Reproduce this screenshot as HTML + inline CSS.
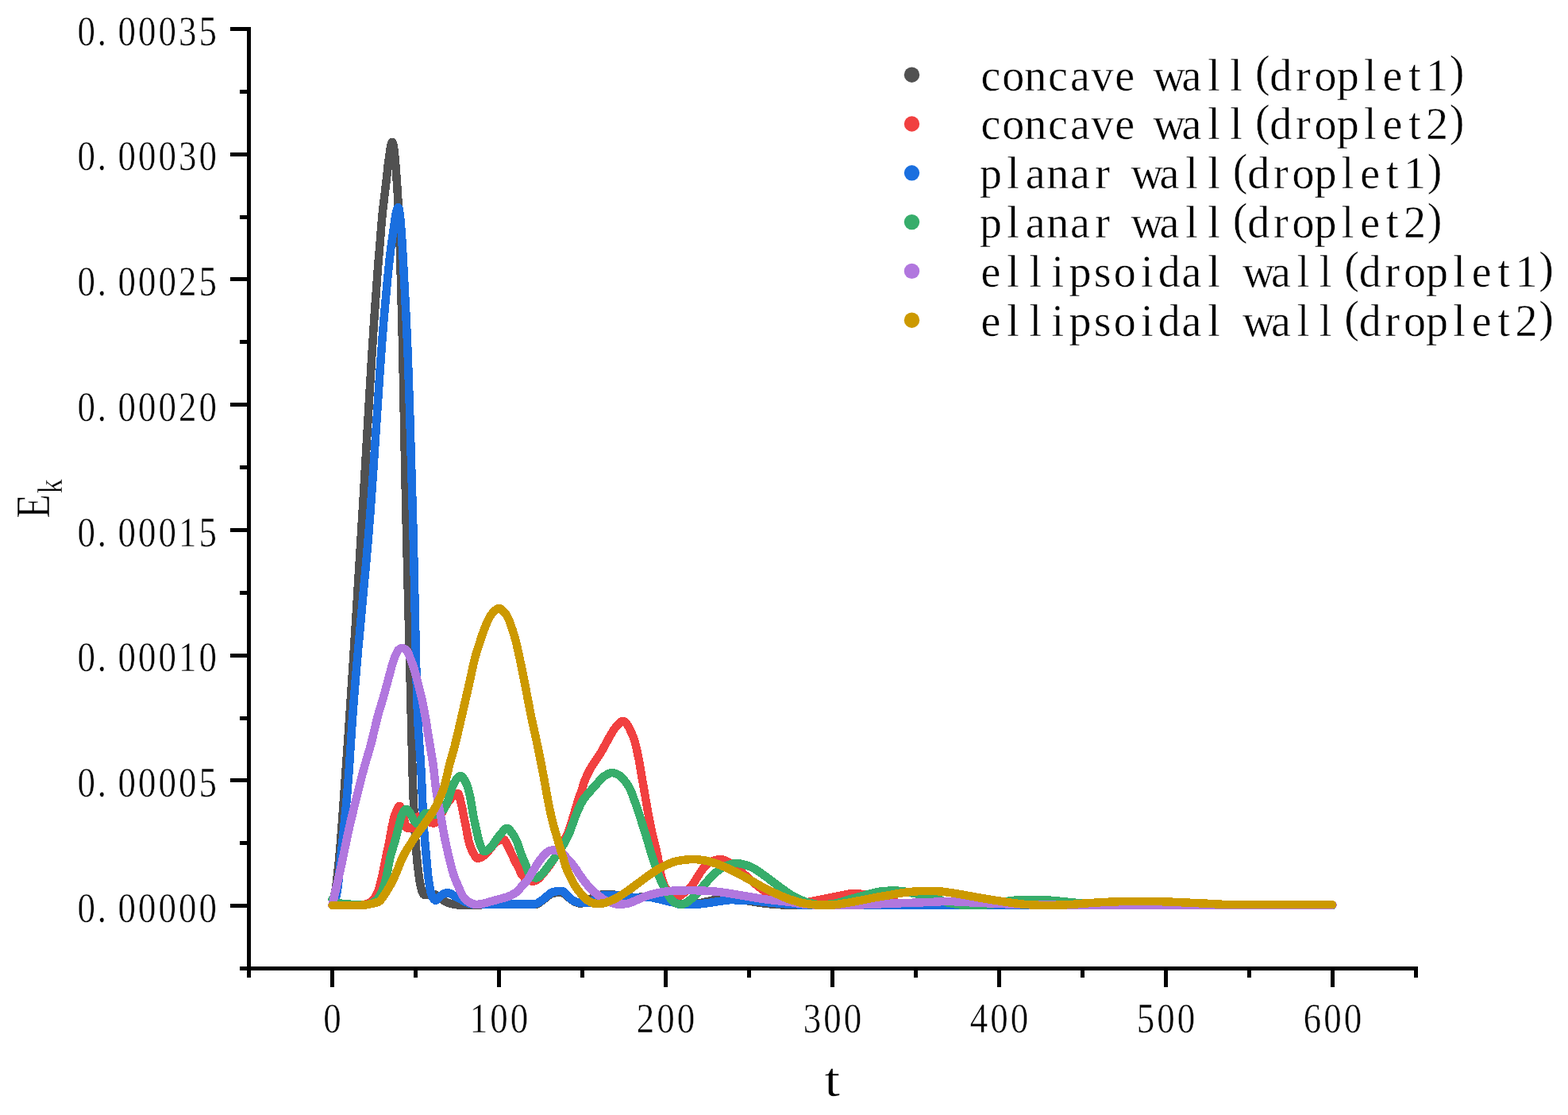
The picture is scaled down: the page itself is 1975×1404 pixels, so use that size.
<!DOCTYPE html>
<html lang="en">
<head>
<meta charset="utf-8">
<title>Ek vs t</title>
<style>
html,body{margin:0;padding:0;background:#ffffff;}
body{width:1975px;height:1404px;overflow:hidden;}
svg{display:block;}
text{font-family:"Liberation Serif",serif;fill:#000;stroke:#fff;stroke-width:0.45px;vector-effect:non-scaling-stroke;}
</style>
</head>
<body>
<svg width="1975" height="1404" viewBox="0 0 1975 1404">
<rect x="0" y="0" width="1975" height="1404" fill="#ffffff"/>
<g fill="none" stroke-width="10.5" stroke-linecap="round" stroke-linejoin="round" shape-rendering="crispEdges">
<path stroke="#515151" d="M418.5,1140.0 L422.5,1121.1 L423.5,1115.0 L424.5,1105.2 L426.5,1087.7 L427.5,1077.9 L429.0,1060.4 L431.0,1033.8 L439.5,914.6 L444.5,839.4 L449.0,768.2 L457.0,638.6 L465.5,494.6 L468.5,445.3 L471.5,399.2 L476.0,336.9 L479.0,301.2 L480.5,281.9 L481.0,276.0 L482.0,266.2 L486.5,228.3 L489.0,205.6 L491.0,191.3 L492.0,185.0 L492.5,182.4 L493.0,180.4 L493.5,179.2 L494.0,178.7 L494.5,179.2 L495.0,180.5 L495.5,182.7 L496.0,185.6 L497.0,193.6 L498.5,210.0 L500.0,230.6 L502.0,262.3 L502.5,273.3 L503.5,301.5 L505.0,354.3 L507.0,432.7 L511.0,627.6 L513.0,712.5 L517.5,888.1 L519.5,969.6 L520.0,986.3 L521.0,1013.0 L522.5,1044.8 L523.5,1061.3 L524.5,1074.4 L526.0,1089.9 L527.5,1102.2 L528.5,1108.7 L529.5,1114.2 L531.0,1120.5 L531.5,1122.0 L532.5,1124.4 L533.0,1125.4 L533.5,1126.2 L534.0,1126.5 L535.5,1126.7 L537.5,1126.9 L540.0,1127.0 L541.5,1126.9 L546.0,1126.1 L547.0,1126.0 L548.0,1126.2 L549.0,1126.6 L550.0,1127.3 L554.5,1131.1 L561.0,1135.2 L563.0,1136.3 L564.5,1137.0 L566.5,1137.6 L572.0,1138.7 L576.0,1139.3 L579.5,1139.5 L594.0,1139.4 L632.5,1139.0 L674.5,1139.0 L675.5,1138.8 L676.5,1138.4 L677.5,1137.9 L679.0,1136.9 L683.5,1133.8 L691.5,1127.4 L693.5,1126.0 L694.5,1125.6 L698.0,1124.5 L700.0,1124.1 L702.0,1124.0 L704.5,1124.1 L707.5,1124.3 L709.0,1124.6 L710.0,1124.9 L711.5,1126.0 L715.5,1129.6 L720.5,1133.4 L722.5,1134.8 L724.5,1135.8 L727.5,1136.9 L729.5,1137.4 L731.0,1137.5 L732.5,1137.4 L734.0,1137.0 L738.0,1135.5 L739.5,1134.8 L743.5,1132.3 L747.0,1130.5 L750.5,1129.0 L756.5,1126.9 L758.0,1126.5 L759.5,1126.3 L768.0,1126.3 L771.0,1126.4 L774.0,1126.7 L793.0,1129.4 L797.5,1129.9 L800.0,1130.0 L802.5,1129.9 L814.0,1129.3 L816.0,1129.3 L818.5,1129.6 L821.5,1130.1 L829.0,1131.7 L839.5,1134.4 L848.5,1136.2 L850.0,1136.6 L854.5,1138.2 L856.0,1138.5 L857.0,1138.6 L867.5,1138.4 L875.0,1138.0 L877.5,1137.8 L882.0,1137.0 L892.0,1134.9 L896.5,1133.8 L899.5,1133.3 L907.5,1133.0 L920.0,1133.0 L924.5,1133.1 L929.0,1133.3 L941.0,1134.2 L945.0,1134.8 L955.5,1136.6 L963.5,1137.6 L970.0,1138.3 L980.5,1139.1 L985.0,1139.4 L988.5,1139.5 L1282.5,1139.7 L1678.5,1139.8"/>
<path stroke="#F14040" d="M418.5,1139.5 L455.0,1139.5 L457.0,1139.3 L459.0,1138.9 L462.5,1137.8 L464.5,1137.1 L466.0,1136.3 L468.0,1135.0 L469.0,1134.1 L470.0,1133.1 L471.5,1131.1 L473.5,1127.8 L475.5,1123.9 L476.5,1121.3 L477.5,1118.4 L479.0,1113.3 L481.5,1102.4 L485.5,1082.4 L490.0,1061.4 L493.5,1042.0 L495.5,1032.9 L497.0,1027.3 L499.5,1020.7 L501.0,1017.4 L502.0,1015.8 L502.5,1015.3 L503.0,1015.0 L503.5,1014.9 L504.0,1015.3 L504.5,1016.2 L505.0,1017.5 L507.5,1026.4 L508.5,1029.6 L511.0,1039.3 L511.5,1040.8 L512.0,1041.9 L512.5,1042.6 L513.0,1042.7 L519.0,1042.7 L519.5,1042.4 L520.0,1041.8 L520.5,1040.8 L522.0,1037.1 L523.0,1035.0 L525.0,1030.2 L525.5,1029.3 L526.0,1028.7 L526.5,1028.5 L527.5,1028.6 L528.5,1029.0 L531.5,1030.7 L537.5,1033.9 L539.5,1034.8 L542.0,1035.7 L544.0,1036.2 L546.0,1036.5 L547.0,1036.4 L547.5,1036.2 L548.5,1035.5 L549.5,1034.7 L551.0,1033.1 L552.0,1032.0 L553.0,1030.6 L556.0,1024.7 L561.0,1015.6 L563.0,1012.2 L565.0,1009.2 L569.5,1003.9 L572.0,1001.3 L573.0,1000.4 L574.0,999.7 L575.0,999.2 L576.0,998.9 L576.5,998.9 L577.0,999.1 L577.5,999.7 L578.0,1000.8 L579.0,1004.0 L580.0,1008.0 L582.0,1016.5 L584.0,1027.0 L586.5,1039.1 L589.5,1054.9 L590.5,1059.5 L591.0,1061.3 L592.0,1064.6 L593.0,1067.5 L594.5,1071.0 L597.5,1076.7 L598.5,1078.4 L599.5,1079.7 L600.5,1080.6 L601.0,1080.8 L601.5,1080.9 L602.5,1080.8 L604.5,1080.2 L607.0,1079.0 L608.0,1078.4 L610.0,1076.9 L613.5,1073.5 L615.5,1071.2 L621.0,1064.3 L622.5,1062.7 L625.5,1059.9 L626.5,1059.2 L627.5,1058.6 L630.5,1057.5 L632.0,1057.0 L633.0,1056.9 L634.0,1056.8 L634.5,1056.9 L635.0,1057.2 L636.0,1058.3 L637.5,1060.8 L642.0,1069.9 L648.5,1084.1 L652.5,1091.4 L656.5,1100.0 L657.5,1101.7 L659.0,1103.5 L661.0,1105.7 L662.0,1106.6 L663.0,1107.3 L664.0,1107.8 L665.5,1108.4 L668.5,1109.2 L670.5,1109.6 L671.5,1109.6 L672.5,1109.5 L673.5,1109.2 L674.5,1108.8 L677.0,1107.5 L678.0,1106.8 L679.0,1105.9 L683.5,1100.8 L691.0,1091.2 L695.0,1085.7 L700.0,1078.0 L704.5,1070.6 L708.0,1064.3 L711.5,1057.3 L715.0,1049.5 L716.0,1047.0 L717.5,1042.7 L722.5,1026.8 L729.0,1005.1 L730.0,1002.2 L733.0,994.2 L735.0,987.3 L736.0,984.3 L737.5,980.6 L739.0,977.2 L741.0,973.0 L743.0,969.1 L745.0,965.6 L747.0,962.4 L751.0,956.3 L755.5,949.8 L757.5,946.6 L767.5,928.3 L771.5,921.6 L774.0,917.6 L776.0,915.0 L779.5,911.1 L781.0,909.6 L782.0,908.8 L783.0,908.2 L784.0,907.8 L784.5,907.8 L785.0,907.8 L786.0,908.2 L787.0,908.8 L788.0,909.7 L789.5,911.6 L791.5,914.8 L793.0,917.6 L794.5,920.8 L798.0,928.8 L799.0,931.7 L800.5,937.1 L802.5,945.8 L805.0,958.1 L808.0,976.0 L812.5,1001.5 L815.5,1019.1 L818.0,1032.6 L820.0,1042.5 L822.0,1051.8 L826.5,1069.9 L828.0,1076.6 L829.0,1081.6 L831.0,1094.6 L831.5,1097.3 L832.5,1101.5 L834.0,1107.1 L835.5,1111.7 L837.0,1115.4 L839.0,1119.2 L840.5,1121.6 L842.0,1123.6 L843.5,1124.9 L846.0,1126.7 L847.0,1127.2 L848.0,1127.6 L849.0,1127.8 L854.0,1128.0 L855.5,1128.0 L856.5,1127.7 L857.5,1127.2 L859.0,1126.3 L864.0,1122.5 L867.0,1120.0 L869.0,1118.1 L870.5,1116.5 L872.5,1114.0 L874.0,1111.6 L878.0,1104.9 L882.5,1098.0 L885.0,1094.5 L886.5,1092.6 L889.5,1089.4 L891.5,1087.5 L893.0,1086.2 L894.5,1085.2 L895.5,1084.7 L899.5,1083.5 L902.0,1082.9 L904.0,1082.5 L906.0,1082.3 L908.0,1082.2 L909.0,1082.2 L910.5,1082.5 L912.0,1083.0 L913.5,1083.6 L915.5,1084.5 L920.5,1087.3 L923.5,1089.2 L927.5,1092.4 L939.0,1102.4 L947.5,1110.0 L951.5,1113.3 L961.5,1121.1 L965.0,1123.7 L968.5,1126.1 L976.0,1130.6 L979.0,1132.2 L982.0,1133.7 L991.5,1137.9 L993.5,1138.5 L995.5,1138.9 L998.0,1138.9 L1002.0,1138.7 L1006.5,1138.4 L1011.0,1137.9 L1013.0,1137.4 L1019.0,1135.7 L1022.0,1135.1 L1040.5,1131.4 L1055.0,1128.4 L1069.5,1125.6 L1072.5,1125.2 L1075.5,1125.1 L1079.0,1125.2 L1082.5,1125.5 L1090.0,1126.5 L1092.5,1126.9 L1098.0,1128.2 L1107.5,1130.8 L1121.0,1134.5 L1128.5,1136.3 L1135.0,1137.5 L1141.0,1138.5 L1150.5,1139.7 L1154.5,1140.0 L1678.5,1140.0"/>
<path stroke="#1A6FDF" d="M418.5,1140.0 L419.5,1138.7 L420.5,1136.7 L421.5,1134.3 L422.5,1131.6 L423.5,1128.0 L424.0,1125.9 L425.0,1120.8 L425.5,1117.3 L427.0,1103.8 L429.0,1083.0 L433.0,1044.2 L435.5,1018.8 L437.5,996.8 L439.5,972.1 L444.0,904.1 L447.5,859.6 L451.5,813.6 L461.5,705.0 L464.0,675.9 L466.5,644.9 L470.0,596.1 L479.0,460.9 L481.5,426.8 L483.5,402.3 L486.5,368.7 L488.5,347.5 L490.5,328.0 L492.5,310.9 L496.5,282.7 L498.5,270.2 L499.5,265.5 L500.0,263.7 L500.5,262.3 L501.0,261.4 L501.5,261.0 L502.0,261.4 L502.5,262.8 L503.0,265.2 L503.5,268.5 L504.5,277.9 L506.0,297.3 L507.5,321.7 L509.5,359.1 L512.0,408.0 L513.5,442.7 L514.5,469.7 L516.0,514.6 L520.0,650.0 L521.0,689.7 L524.5,851.5 L525.5,886.8 L526.5,910.5 L527.5,927.5 L529.5,954.7 L530.5,970.4 L531.0,980.0 L532.0,1005.9 L532.5,1016.5 L534.0,1043.5 L534.5,1050.8 L535.5,1063.1 L538.5,1095.7 L539.5,1105.1 L540.5,1112.4 L542.0,1120.6 L543.0,1125.0 L543.5,1126.7 L544.0,1128.0 L545.0,1129.9 L546.5,1132.2 L547.5,1133.2 L548.0,1133.5 L548.5,1133.6 L549.0,1133.5 L550.0,1133.0 L552.5,1130.4 L556.0,1127.3 L557.5,1126.3 L560.0,1125.1 L561.5,1124.6 L563.0,1124.3 L564.0,1124.2 L565.5,1124.5 L568.5,1125.7 L573.0,1128.7 L579.0,1131.5 L583.5,1134.2 L585.0,1135.0 L590.5,1137.4 L592.5,1138.0 L594.5,1138.4 L600.5,1138.9 L605.5,1139.0 L638.0,1138.5 L674.0,1138.4 L675.0,1138.2 L677.0,1137.3 L678.5,1136.4 L680.0,1135.4 L684.0,1132.5 L689.0,1128.4 L692.0,1125.8 L694.0,1124.3 L696.5,1123.3 L699.0,1122.6 L702.0,1122.2 L705.0,1122.0 L708.5,1122.3 L709.0,1122.4 L710.0,1122.9 L711.5,1124.2 L714.5,1127.8 L715.5,1128.9 L720.0,1132.5 L721.5,1133.6 L723.0,1134.5 L724.5,1135.2 L727.5,1136.3 L729.5,1136.8 L731.0,1136.9 L738.5,1136.7 L742.0,1136.5 L743.0,1136.3 L744.0,1135.9 L745.0,1135.4 L749.0,1132.6 L754.5,1129.4 L756.5,1128.3 L758.0,1127.7 L759.5,1127.4 L762.0,1127.1 L766.0,1126.9 L770.0,1126.8 L773.0,1126.9 L776.0,1127.2 L794.0,1129.8 L798.0,1130.2 L802.5,1130.2 L811.0,1129.6 L814.0,1129.5 L816.0,1129.5 L818.5,1129.8 L821.5,1130.3 L829.0,1131.9 L839.5,1134.6 L848.5,1136.4 L850.0,1136.8 L854.5,1138.4 L856.0,1138.7 L857.0,1138.8 L875.5,1138.8 L880.0,1138.6 L884.0,1138.1 L892.5,1137.0 L905.5,1135.0 L915.0,1133.6 L918.0,1133.3 L920.5,1133.2 L934.0,1133.4 L941.0,1133.6 L945.0,1133.8 L950.0,1134.3 L962.5,1135.8 L983.5,1137.9 L997.5,1139.0 L1004.5,1139.3 L1292.5,1139.6 L1678.5,1139.7"/>
<path stroke="#37AD6B" d="M418.5,1132.5 L419.5,1134.7 L420.0,1135.6 L420.5,1136.0 L422.0,1136.4 L431.0,1137.8 L434.5,1138.2 L443.0,1138.8 L449.0,1139.0 L462.0,1139.0 L464.0,1138.8 L466.5,1138.0 L468.5,1137.3 L469.5,1136.8 L472.0,1135.2 L474.5,1133.1 L475.5,1132.0 L477.0,1130.0 L478.5,1127.5 L480.0,1124.7 L481.0,1122.6 L482.0,1120.2 L484.0,1114.3 L485.0,1110.9 L486.5,1104.7 L487.5,1100.0 L491.0,1081.8 L492.5,1075.7 L496.5,1062.7 L497.5,1059.2 L505.0,1029.6 L506.0,1026.7 L507.5,1023.7 L509.0,1021.1 L510.0,1019.9 L510.5,1019.4 L511.0,1019.1 L511.5,1019.0 L512.0,1019.0 L512.5,1019.2 L513.5,1019.9 L514.5,1020.9 L516.0,1023.1 L517.5,1025.7 L520.5,1031.4 L522.5,1034.7 L523.5,1035.9 L524.5,1036.8 L525.5,1037.3 L526.0,1037.4 L526.5,1037.3 L527.0,1037.1 L527.5,1036.7 L528.5,1035.5 L530.0,1033.0 L532.5,1028.4 L533.5,1026.7 L534.5,1025.3 L535.0,1024.7 L535.5,1024.3 L536.0,1024.1 L537.0,1024.0 L539.0,1024.2 L546.0,1025.6 L549.0,1026.0 L550.0,1026.0 L551.0,1025.8 L552.0,1025.3 L553.0,1024.8 L556.0,1022.6 L557.5,1021.0 L558.5,1019.6 L559.5,1018.1 L561.5,1014.4 L564.0,1008.9 L569.5,991.4 L570.5,989.0 L572.5,985.3 L574.5,981.9 L576.5,979.2 L577.5,978.1 L578.5,977.4 L579.5,977.0 L580.0,976.9 L581.0,977.1 L582.0,977.8 L583.0,978.8 L584.0,980.2 L585.0,981.9 L586.5,984.7 L588.5,989.1 L589.0,990.5 L590.0,994.0 L592.0,1002.6 L593.0,1007.9 L596.5,1028.5 L598.0,1035.8 L602.5,1056.0 L603.5,1059.8 L605.5,1065.2 L607.0,1068.7 L608.0,1070.5 L608.5,1071.2 L609.0,1071.7 L609.5,1072.0 L610.0,1072.1 L610.5,1072.1 L611.5,1071.8 L612.5,1071.4 L613.5,1070.8 L616.0,1068.8 L619.5,1065.5 L620.5,1064.3 L624.5,1058.3 L628.5,1052.8 L630.5,1050.3 L635.0,1045.1 L636.5,1043.7 L637.5,1043.1 L638.5,1042.9 L639.5,1043.1 L640.5,1043.7 L642.0,1045.2 L646.0,1050.3 L648.0,1053.5 L650.5,1058.4 L651.5,1060.8 L654.0,1068.4 L657.5,1078.1 L659.0,1081.8 L662.0,1088.4 L663.0,1090.8 L665.0,1097.2 L665.5,1098.6 L666.0,1099.6 L667.5,1101.3 L669.0,1102.7 L670.5,1103.8 L672.0,1104.6 L673.5,1105.2 L674.5,1105.4 L676.0,1105.3 L677.0,1105.0 L678.0,1104.5 L679.0,1103.8 L682.5,1100.9 L683.5,1100.0 L685.0,1098.2 L690.5,1090.6 L696.0,1083.6 L699.0,1079.6 L705.5,1070.1 L710.0,1062.9 L713.5,1056.6 L716.5,1050.5 L718.5,1045.4 L723.5,1031.4 L726.5,1023.8 L729.0,1018.0 L731.0,1013.7 L732.5,1010.7 L734.0,1008.2 L736.0,1005.2 L737.5,1003.2 L739.5,1000.7 L750.0,988.8 L757.5,980.6 L759.5,978.6 L760.5,977.8 L761.5,977.1 L764.5,975.3 L766.5,974.3 L768.0,973.7 L769.0,973.4 L771.0,973.1 L773.0,973.3 L775.5,974.1 L779.5,976.1 L781.5,977.5 L783.0,978.9 L785.0,981.0 L786.5,982.7 L788.0,984.6 L790.5,988.2 L792.0,990.6 L793.0,992.5 L795.0,996.8 L796.5,1000.4 L801.5,1014.7 L807.5,1032.8 L812.0,1046.8 L814.5,1055.0 L820.0,1073.8 L823.5,1084.8 L827.5,1096.7 L829.5,1102.1 L831.0,1105.7 L833.5,1111.2 L839.5,1123.3 L841.5,1126.8 L844.0,1130.5 L845.5,1132.4 L847.5,1134.6 L849.0,1136.0 L850.0,1136.8 L851.0,1137.3 L852.5,1137.8 L855.5,1138.6 L857.0,1138.8 L858.5,1138.8 L860.0,1138.5 L861.5,1138.0 L864.0,1137.0 L865.0,1136.5 L866.5,1135.5 L868.0,1134.2 L871.5,1131.2 L873.5,1129.3 L879.5,1123.2 L882.5,1119.7 L890.0,1110.7 L895.5,1104.5 L897.5,1102.3 L899.5,1100.4 L901.5,1098.7 L905.0,1095.9 L907.5,1094.0 L909.5,1092.7 L911.5,1091.5 L913.5,1090.6 L915.0,1090.0 L919.5,1088.6 L923.0,1087.7 L926.0,1087.2 L928.5,1087.1 L931.0,1087.3 L933.5,1087.7 L936.0,1088.4 L941.0,1089.8 L943.0,1090.5 L945.5,1091.6 L949.0,1093.3 L951.0,1094.4 L956.0,1097.6 L966.0,1104.8 L979.0,1114.6 L991.5,1123.7 L996.5,1126.9 L1000.5,1129.1 L1004.5,1131.2 L1008.0,1132.8 L1011.0,1134.1 L1014.5,1135.4 L1018.0,1136.5 L1021.0,1137.2 L1027.5,1138.5 L1030.5,1139.0 L1033.0,1139.2 L1037.0,1139.3 L1042.0,1138.9 L1050.5,1137.9 L1054.0,1137.3 L1059.0,1135.9 L1069.0,1132.8 L1082.5,1129.0 L1100.5,1124.3 L1106.0,1123.0 L1109.5,1122.4 L1115.0,1122.0 L1120.5,1121.6 L1125.0,1121.5 L1131.5,1121.7 L1139.5,1122.5 L1142.5,1123.1 L1149.5,1124.7 L1160.5,1126.4 L1165.0,1127.3 L1173.0,1129.0 L1176.5,1129.9 L1180.0,1131.0 L1182.5,1132.0 L1188.5,1135.0 L1190.5,1135.6 L1194.0,1136.6 L1203.5,1138.5 L1208.0,1139.2 L1210.5,1139.5 L1218.0,1139.8 L1225.0,1140.0 L1231.0,1140.0 L1235.5,1139.8 L1240.0,1139.5 L1251.5,1138.3 L1255.0,1137.6 L1261.5,1136.0 L1264.5,1135.4 L1275.5,1133.9 L1279.5,1133.5 L1283.5,1133.2 L1292.0,1133.0 L1299.0,1132.9 L1314.5,1133.2 L1322.0,1133.6 L1330.0,1134.3 L1378.0,1139.0 L1384.5,1139.5 L1397.0,1140.0 L1678.5,1140.0"/>
<path stroke="#B177DE" d="M418.5,1140.0 L421.5,1126.4 L426.0,1107.4 L428.5,1096.2 L432.5,1077.6 L438.5,1048.3 L442.0,1033.0 L456.0,976.5 L459.0,965.4 L465.0,945.0 L467.5,936.0 L469.5,928.1 L474.0,909.0 L476.0,901.1 L477.5,895.8 L481.5,882.7 L483.5,875.8 L489.0,855.8 L492.0,844.4 L494.0,837.1 L495.0,833.8 L496.5,829.4 L497.5,826.7 L498.5,824.3 L500.5,820.3 L501.5,818.8 L503.0,817.5 L504.5,816.5 L505.5,816.1 L506.5,816.0 L507.5,816.2 L509.0,816.7 L510.5,817.7 L512.5,819.3 L513.5,820.8 L515.0,824.2 L519.5,835.9 L521.0,840.3 L522.0,843.6 L524.5,852.6 L531.0,878.2 L533.5,890.3 L536.0,904.0 L542.0,941.2 L545.0,958.8 L546.0,965.8 L548.5,988.6 L550.0,999.3 L551.5,1008.5 L555.0,1026.5 L559.0,1049.2 L561.5,1061.7 L565.0,1077.5 L567.5,1087.6 L569.5,1095.2 L571.5,1101.9 L573.5,1107.5 L580.5,1123.5 L581.5,1125.6 L582.5,1127.5 L583.5,1129.0 L585.5,1131.6 L587.0,1133.2 L588.5,1134.5 L590.0,1135.5 L592.5,1136.8 L594.5,1137.7 L596.5,1138.4 L599.0,1138.9 L600.5,1138.9 L602.0,1138.8 L606.0,1138.3 L612.0,1137.0 L620.5,1134.4 L632.5,1131.3 L638.0,1129.6 L641.0,1128.5 L644.0,1127.2 L646.5,1125.8 L649.0,1124.3 L651.5,1122.5 L653.0,1121.2 L654.5,1119.4 L658.0,1114.8 L659.5,1113.2 L662.5,1110.3 L664.5,1108.0 L666.5,1105.0 L670.0,1098.9 L676.0,1089.0 L680.5,1082.5 L684.0,1078.3 L685.5,1076.7 L689.0,1073.3 L690.0,1072.5 L691.0,1071.8 L692.0,1071.3 L694.0,1070.8 L695.5,1070.5 L697.0,1070.4 L698.5,1070.5 L700.5,1070.9 L702.5,1071.6 L705.5,1072.7 L706.5,1073.3 L708.0,1074.3 L710.5,1076.6 L718.5,1085.4 L722.5,1090.3 L725.5,1094.4 L729.5,1100.6 L733.0,1105.5 L736.5,1110.3 L739.5,1114.0 L742.0,1116.9 L745.0,1120.0 L748.0,1122.8 L751.0,1125.4 L759.0,1131.6 L761.5,1133.2 L763.5,1134.4 L765.0,1135.0 L768.0,1136.1 L772.5,1137.6 L776.0,1138.4 L779.0,1138.8 L781.5,1138.8 L785.0,1138.5 L790.0,1137.8 L792.5,1137.3 L795.5,1136.2 L802.0,1133.3 L810.5,1129.7 L814.5,1128.2 L819.0,1126.8 L823.5,1125.6 L827.5,1124.6 L833.0,1123.5 L837.0,1122.8 L842.5,1122.1 L848.5,1121.5 L859.0,1121.3 L873.0,1121.2 L879.5,1121.3 L887.0,1121.6 L900.5,1122.5 L905.5,1123.0 L914.0,1124.2 L954.0,1130.9 L965.5,1132.6 L996.0,1136.0 L1000.0,1136.6 L1008.0,1138.0 L1011.5,1138.4 L1022.0,1139.2 L1031.0,1139.6 L1061.5,1139.6 L1084.5,1139.4 L1122.0,1137.7 L1170.0,1136.0 L1181.5,1135.5 L1189.5,1134.9 L1193.0,1134.8 L1196.5,1134.9 L1204.0,1135.4 L1210.5,1135.8 L1262.5,1138.1 L1286.5,1139.0 L1297.5,1139.3 L1460.5,1139.5 L1678.5,1139.6"/>
<path stroke="#CC9900" d="M418.5,1140.0 L448.5,1139.9 L455.0,1139.8 L458.0,1139.6 L461.0,1139.3 L464.5,1138.7 L468.0,1138.1 L470.5,1137.5 L474.5,1136.4 L476.0,1135.9 L477.5,1135.1 L478.5,1134.3 L480.5,1132.0 L482.5,1129.3 L484.0,1127.2 L490.0,1117.4 L493.5,1111.2 L495.5,1107.1 L498.5,1100.4 L501.0,1094.5 L505.0,1084.3 L506.5,1080.8 L509.0,1075.9 L511.5,1071.6 L515.0,1065.9 L523.5,1052.9 L527.5,1047.1 L533.0,1039.9 L536.0,1035.7 L544.0,1024.0 L547.0,1019.1 L548.5,1016.3 L550.5,1012.3 L555.5,1001.3 L557.0,997.6 L558.5,993.6 L559.5,990.6 L560.5,987.2 L562.0,981.1 L565.5,965.5 L567.5,958.0 L572.0,942.3 L575.5,928.2 L590.5,863.2 L595.5,840.1 L597.5,831.5 L598.5,827.6 L600.0,822.4 L605.0,806.6 L608.0,797.6 L610.5,790.9 L614.0,782.4 L616.0,778.4 L619.0,773.6 L620.5,771.6 L621.5,770.4 L624.0,768.3 L626.0,766.8 L627.5,766.1 L628.5,766.0 L629.5,766.2 L631.0,767.0 L632.5,768.2 L635.0,770.6 L636.0,771.8 L637.5,773.9 L640.0,778.2 L641.5,781.6 L645.5,793.0 L647.5,799.4 L650.0,808.6 L652.5,819.2 L655.5,833.2 L662.0,865.6 L668.5,899.5 L670.5,908.9 L675.5,931.4 L679.0,948.3 L684.0,973.8 L689.5,1004.2 L692.0,1017.0 L694.0,1026.5 L696.0,1034.8 L698.5,1044.0 L703.0,1059.4 L709.5,1080.7 L712.0,1089.5 L713.0,1092.5 L715.0,1097.3 L720.5,1108.6 L723.5,1114.2 L725.0,1116.6 L727.0,1119.5 L729.5,1122.8 L733.0,1127.1 L735.0,1129.3 L736.5,1130.8 L739.0,1132.9 L741.0,1134.3 L744.5,1136.2 L746.5,1137.1 L747.5,1137.4 L749.0,1137.6 L751.5,1137.8 L754.0,1137.9 L756.5,1137.8 L760.5,1137.2 L763.0,1136.6 L767.5,1134.9 L771.0,1133.4 L774.5,1131.7 L779.0,1129.3 L782.0,1127.5 L785.5,1125.2 L791.0,1121.5 L797.5,1116.8 L814.0,1104.5 L820.5,1099.9 L824.5,1097.2 L828.5,1094.7 L833.5,1092.0 L837.5,1090.0 L843.5,1087.3 L846.5,1086.0 L849.0,1085.2 L852.5,1084.3 L856.0,1083.6 L859.5,1083.1 L866.0,1082.4 L869.5,1082.1 L873.0,1082.0 L876.5,1082.1 L880.0,1082.4 L885.5,1083.1 L888.5,1083.6 L891.5,1084.3 L895.5,1085.4 L901.0,1087.1 L905.0,1088.5 L909.0,1090.1 L914.0,1092.2 L918.5,1094.2 L922.5,1096.2 L936.5,1103.5 L959.5,1116.4 L964.5,1119.0 L970.0,1121.8 L975.5,1124.4 L987.0,1129.5 L992.0,1131.5 L996.0,1132.9 L1003.0,1135.1 L1008.0,1136.5 L1012.0,1137.4 L1017.0,1138.2 L1022.0,1138.8 L1026.5,1139.3 L1034.0,1139.5 L1046.0,1139.6 L1049.0,1139.5 L1052.0,1139.2 L1063.0,1137.6 L1069.0,1136.6 L1082.5,1134.1 L1102.5,1130.1 L1137.0,1124.2 L1146.5,1123.0 L1153.0,1122.4 L1161.0,1122.0 L1168.5,1121.9 L1174.5,1122.0 L1182.5,1122.3 L1186.0,1122.6 L1190.0,1123.0 L1206.5,1125.5 L1236.0,1130.9 L1247.0,1132.7 L1260.5,1134.8 L1278.5,1137.4 L1285.5,1138.3 L1291.0,1138.9 L1301.0,1139.5 L1309.0,1139.8 L1315.5,1140.0 L1323.0,1140.0 L1343.0,1139.3 L1349.0,1139.0 L1364.0,1137.7 L1381.5,1136.5 L1389.0,1136.1 L1404.0,1135.4 L1414.0,1135.1 L1439.5,1134.9 L1455.5,1135.0 L1469.5,1135.4 L1526.0,1138.0 L1539.0,1138.8 L1545.5,1139.0 L1587.5,1139.2 L1678.0,1139.2"/>
</g>
<g fill="#000000" shape-rendering="crispEdges">
<rect x="311" y="34" width="5" height="1197"/>
<rect x="302" y="1217" width="1484" height="5"/>
<rect x="290" y="1138" width="21" height="5"/>
<rect x="302" y="1059" width="9" height="5"/>
<rect x="290" y="980" width="21" height="5"/>
<rect x="302" y="902" width="9" height="5"/>
<rect x="290" y="823" width="21" height="5"/>
<rect x="302" y="744" width="9" height="5"/>
<rect x="290" y="665" width="21" height="5"/>
<rect x="302" y="586" width="9" height="5"/>
<rect x="290" y="507" width="21" height="5"/>
<rect x="302" y="428" width="9" height="5"/>
<rect x="290" y="349" width="21" height="5"/>
<rect x="302" y="271" width="9" height="5"/>
<rect x="290" y="192" width="21" height="5"/>
<rect x="302" y="113" width="9" height="5"/>
<rect x="290" y="34" width="21" height="5"/>
<rect x="416" y="1222" width="5" height="21"/>
<rect x="521" y="1222" width="5" height="9"/>
<rect x="626" y="1222" width="5" height="21"/>
<rect x="731" y="1222" width="5" height="9"/>
<rect x="836" y="1222" width="5" height="21"/>
<rect x="941" y="1222" width="5" height="9"/>
<rect x="1046" y="1222" width="5" height="21"/>
<rect x="1151" y="1222" width="5" height="9"/>
<rect x="1256" y="1222" width="5" height="21"/>
<rect x="1361" y="1222" width="5" height="9"/>
<rect x="1466" y="1222" width="5" height="21"/>
<rect x="1571" y="1222" width="5" height="9"/>
<rect x="1676" y="1222" width="5" height="21"/>
<rect x="1781" y="1222" width="5" height="9"/>
</g>
<g font-size="52" text-anchor="middle" transform="scale(0.865,1)">
<text x="125.84 148.38 184.80 214.28 243.76 273.24 302.72" y="1160.8">0.00000</text>
<text x="125.84 148.38 184.80 214.28 243.76 273.24 302.72" y="1003.1">0.00005</text>
<text x="125.84 148.38 184.80 214.28 243.76 273.24 302.72" y="845.4">0.00010</text>
<text x="125.84 148.38 184.80 214.28 243.76 273.24 302.72" y="687.6">0.00015</text>
<text x="125.84 148.38 184.80 214.28 243.76 273.24 302.72" y="529.9">0.00020</text>
<text x="125.84 148.38 184.80 214.28 243.76 273.24 302.72" y="372.2">0.00025</text>
<text x="125.84 148.38 184.80 214.28 243.76 273.24 302.72" y="214.5">0.00030</text>
<text x="125.84 148.38 184.80 214.28 243.76 273.24 302.72" y="56.7">0.00035</text>
<text x="483.82" y="1300.2">0</text>
<text x="697.11 726.59 756.07" y="1300.2">100</text>
<text x="939.88 969.36 998.84" y="1300.2">200</text>
<text x="1182.66 1212.14 1241.62" y="1300.2">300</text>
<text x="1425.43 1454.91 1484.39" y="1300.2">400</text>
<text x="1668.21 1697.69 1727.17" y="1300.2">500</text>
<text x="1910.98 1940.46 1969.94" y="1300.2">600</text>
</g>
<text font-size="61" text-anchor="middle" transform="scale(1.15,1)" x="911.57" y="1380.4">t</text>
<text font-size="61" transform="translate(62,652.6) rotate(-90) scale(0.81,1)" x="0" y="0">E<tspan font-size="44.5" dx="1.5" dy="16.2">k</tspan></text>
<circle cx="1148.5" cy="94.2" r="9.7" fill="#515151"/>
<circle cx="1148.5" cy="156.0" r="9.7" fill="#F14040"/>
<circle cx="1148.5" cy="217.8" r="9.7" fill="#1A6FDF"/>
<circle cx="1148.5" cy="279.6" r="9.7" fill="#37AD6B"/>
<circle cx="1148.5" cy="341.4" r="9.7" fill="#B177DE"/>
<circle cx="1148.5" cy="403.2" r="9.7" fill="#CC9900"/>
<g font-size="56" text-anchor="middle" transform="scale(1.0,1)">
<text x="1248.05 1276.15 1304.25 1332.35 1360.45 1388.55 1416.65 1444.75 1472.85 1500.95 1529.05 1557.15 1590.25 1613.35 1641.45 1669.55 1697.65 1725.75 1753.85 1781.95 1810.05 1835.15" y="113.6" dy="0 0 0 0 0 0 0 0 0 0 0 0 -4.5 4.5 0 0 0 0 0 0 0 -4.5">concave wall(droplet1)</text>
<text x="1248.05 1276.15 1304.25 1332.35 1360.45 1388.55 1416.65 1444.75 1472.85 1500.95 1529.05 1557.15 1590.25 1613.35 1641.45 1669.55 1697.65 1725.75 1753.85 1781.95 1810.05 1835.15" y="175.4" dy="0 0 0 0 0 0 0 0 0 0 0 0 -4.5 4.5 0 0 0 0 0 0 0 -4.5">concave wall(droplet2)</text>
<text x="1248.05 1276.15 1304.25 1332.35 1360.45 1388.55 1416.65 1444.75 1472.85 1500.95 1529.05 1562.15 1585.25 1613.35 1641.45 1669.55 1697.65 1725.75 1753.85 1781.95 1807.05" y="237.2" dy="0 0 0 0 0 0 0 0 0 0 0 -4.5 4.5 0 0 0 0 0 0 0 -4.5">planar wall(droplet1)</text>
<text x="1248.05 1276.15 1304.25 1332.35 1360.45 1388.55 1416.65 1444.75 1472.85 1500.95 1529.05 1562.15 1585.25 1613.35 1641.45 1669.55 1697.65 1725.75 1753.85 1781.95 1807.05" y="299.0" dy="0 0 0 0 0 0 0 0 0 0 0 -4.5 4.5 0 0 0 0 0 0 0 -4.5">planar wall(droplet2)</text>
<text x="1248.05 1276.15 1304.25 1332.35 1360.45 1388.55 1416.65 1444.75 1472.85 1500.95 1529.05 1557.15 1585.25 1613.35 1641.45 1669.55 1702.65 1725.75 1753.85 1781.95 1810.05 1838.15 1866.25 1894.35 1922.45 1947.55" y="360.8" dy="0 0 0 0 0 0 0 0 0 0 0 0 0 0 0 0 -4.5 4.5 0 0 0 0 0 0 0 -4.5">ellipsoidal wall(droplet1)</text>
<text x="1248.05 1276.15 1304.25 1332.35 1360.45 1388.55 1416.65 1444.75 1472.85 1500.95 1529.05 1557.15 1585.25 1613.35 1641.45 1669.55 1702.65 1725.75 1753.85 1781.95 1810.05 1838.15 1866.25 1894.35 1922.45 1947.55" y="422.6" dy="0 0 0 0 0 0 0 0 0 0 0 0 0 0 0 0 -4.5 4.5 0 0 0 0 0 0 0 -4.5">ellipsoidal wall(droplet2)</text>
</g>
</svg>
</body>
</html>
